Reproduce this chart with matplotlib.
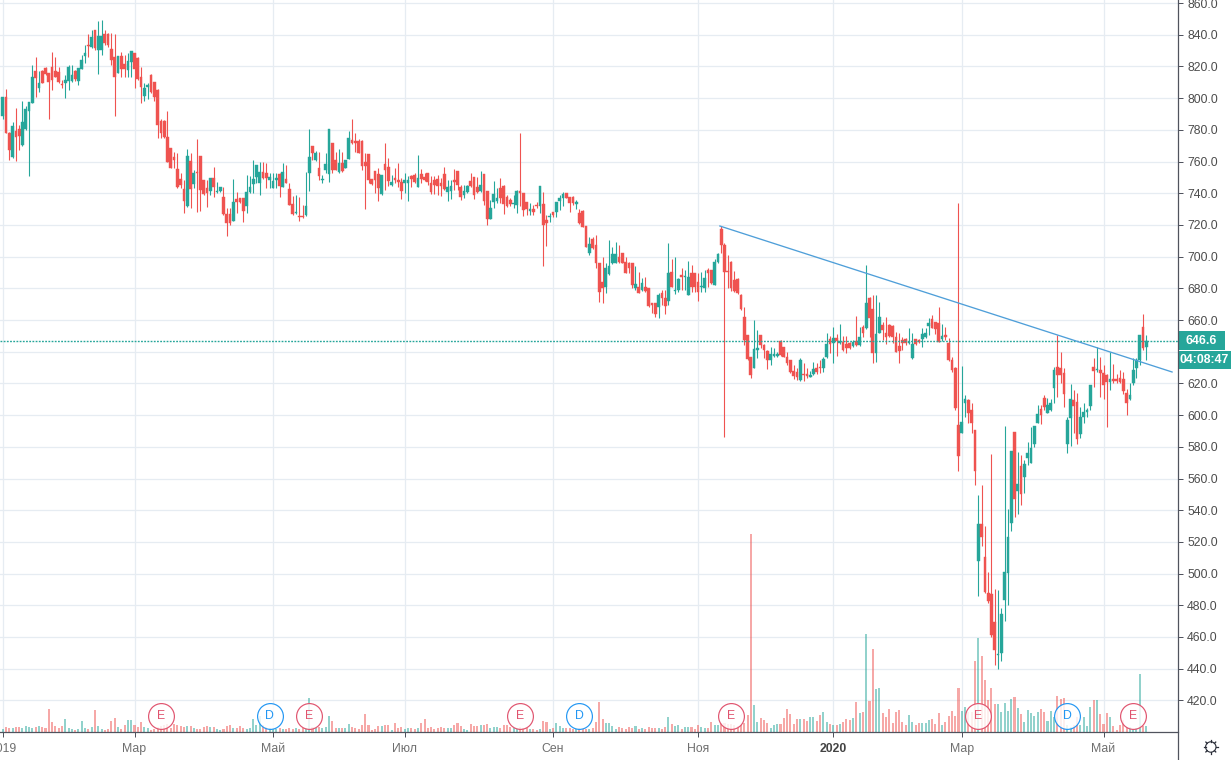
import numpy as np
import matplotlib
matplotlib.use("Agg")
import matplotlib.pyplot as plt
from matplotlib.patches import Circle, Rectangle

plt.rcParams['font.family'] = ['Liberation Sans', 'DejaVu Sans']

# Дневные свечи, значения
opens = [
    788.7, 800.5, 778.2, 763.1, 779.5, 780.3, 770.4, 780.5, 792.1, 797.1,
    817.1, 806.4, 817.3, 819.2, 815.6, 819.4, 817.3, 816.5, 808.9, 809.7,
    810.8, 811.0, 817.3, 811.0, 818.6, 826.6, 833.3, 832.0, 843.0, 830.4,
    830.4, 840.4, 840.4, 830.8, 825.7, 816.1, 826.6, 821.5, 817.7, 823.0,
    828.3, 825.3, 813.1, 801.3, 807.2, 814.6, 810.2, 805.1, 785.6, 785.6,
    775.3, 768.3, 762.6, 755.3, 749.0, 742.7, 731.9, 760.1, 745.8, 753.2,
    763.5, 748.3, 743.1, 741.6, 749.4, 740.8, 741.6, 737.4, 726.9, 726.9,
    722.7, 736.4, 736.8, 736.8, 731.9, 740.8, 745.8, 750.4, 746.6, 753.2,
    752.5, 748.3, 743.5, 748.1, 752.1, 744.1, 748.8, 742.4, 733.2, 727.3,
    725.6, 725.6, 726.3, 752.5, 769.8, 761.0, 755.7, 748.3, 754.6, 752.1,
    771.5, 761.0, 753.4, 759.3, 756.1, 761.4, 773.6, 773.2, 773.2, 773.2,
    759.5, 764.7, 748.8, 753.8, 752.1, 739.5, 758.4, 756.3, 745.0, 749.4,
    748.3, 746.9, 746.6, 746.6, 750.9, 751.5, 744.1, 752.1, 750.0, 752.5,
    746.2, 748.3, 748.7, 746.2, 752.1, 741.0, 741.6, 748.3, 754.0, 743.7,
    739.1, 740.8, 747.9, 750.0, 743.7, 741.2, 752.1, 741.6, 723.9, 734.7,
    735.1, 743.1, 744.8, 737.8, 735.7, 733.2, 732.6, 741.2, 740.3, 734.7,
    728.9, 729.8, 732.6, 731.9, 733.2, 723.1, 724.8, 728.1, 728.1, 735.1,
    737.0, 739.9, 737.4, 737.8, 733.2, 727.7, 729.0, 719.3, 702.0, 710.9,
    707.3, 695.8, 683.8, 681.0, 689.0, 695.8, 696.2, 699.5, 702.0, 696.8,
    695.8, 695.8, 680.0, 681.0, 678.9, 680.6, 680.0, 670.5, 670.5, 668.0,
    676.8, 673.7, 672.2, 690.5, 678.5, 678.9, 688.2, 686.9, 675.8, 689.9,
    689.4, 684.2, 680.6, 680.0, 691.5, 691.5, 682.1, 696.6, 717.4, 707.3,
    690.9, 696.8, 685.2, 685.7, 675.8, 661.7, 650.5, 636.4, 629.9, 641.1,
    650.5, 644.2, 640.7, 634.8, 637.3, 637.3, 647.0, 642.8, 636.9, 634.8,
    628.0, 627.0, 622.2, 626.1, 626.1, 624.2, 625.9, 629.5, 630.5, 629.5,
    636.4, 648.0, 645.7, 648.4, 645.3, 646.3, 644.8, 645.3, 643.6, 646.9,
    644.2, 655.4, 654.7, 673.7, 666.7, 639.4, 652.0, 656.8, 652.0, 656.8,
    656.2, 649.5, 643.6, 647.4, 648.0, 645.7, 635.8, 647.8, 647.4, 648.0,
    649.0, 656.2, 660.4, 658.5, 658.3, 648.2, 650.5, 645.7, 634.7, 629.5,
    593.7, 588.5, 607.8, 609.5, 603.2, 590.6, 508.2, 531.3, 510.3, 487.6,
    487.1, 469.5, 448.9, 450.1, 483.4, 500.6, 532.1, 589.1, 552.3, 567.9,
    561.2, 573.1, 570.0, 581.8, 595.2, 603.8, 611.0, 601.5, 603.2, 616.9,
    630.1, 629.5, 626.8, 581.8, 598.4, 609.5, 608.5, 588.1, 599.0, 601.7,
    605.7, 630.1, 628.4, 628.2, 626.3, 625.3, 621.0, 622.5, 623.0, 623.2,
    622.5, 613.7, 609.9, 620.0, 629.9, 634.7, 655.4, 643.2,
]
highs = [
    800.5, 805.5, 778.8, 785.1, 793.6, 783.0, 798.2, 795.0, 797.6, 820.9,
    826.2, 817.3, 817.7, 819.8, 816.0, 829.1, 826.2, 819.8, 811.4, 814.6,
    820.9, 820.9, 817.7, 819.2, 827.2, 833.5, 840.4, 843.0, 843.0, 848.9,
    849.3, 843.0, 840.9, 840.9, 840.4, 826.6, 829.3, 827.2, 828.3, 829.9,
    828.3, 825.7, 819.8, 809.3, 809.3, 815.2, 810.4, 805.5, 786.6, 786.2,
    791.9, 768.3, 766.2, 765.2, 752.5, 748.3, 767.9, 765.2, 754.7, 774.0,
    763.5, 748.3, 748.3, 749.8, 756.3, 747.3, 744.1, 743.7, 730.5, 730.5,
    748.8, 741.0, 736.8, 736.8, 751.5, 750.9, 761.0, 757.8, 759.9, 759.9,
    759.3, 752.5, 752.5, 752.5, 752.5, 759.3, 757.8, 746.7, 738.5, 738.9,
    737.4, 732.6, 753.6, 780.3, 769.8, 766.8, 765.8, 751.5, 765.6, 780.3,
    771.5, 766.2, 767.9, 765.8, 761.0, 779.3, 786.6, 777.8, 774.0, 773.6,
    765.6, 764.7, 748.8, 754.2, 755.7, 751.5, 771.5, 762.0, 751.5, 755.7,
    758.9, 749.4, 753.0, 750.9, 751.5, 752.5, 764.1, 755.1, 752.5, 753.0,
    750.9, 750.9, 751.5, 749.4, 756.7, 748.3, 748.3, 755.1, 754.2, 745.2,
    745.2, 745.2, 752.5, 750.0, 750.4, 754.2, 752.1, 741.6, 735.7, 747.7,
    743.1, 749.4, 745.2, 738.9, 736.8, 738.9, 742.0, 777.8, 740.3, 734.7,
    733.6, 732.6, 734.7, 744.5, 741.0, 726.2, 727.3, 728.3, 734.5, 738.9,
    740.8, 739.9, 737.8, 738.2, 735.7, 729.8, 729.4, 719.3, 712.6, 712.6,
    713.6, 695.8, 700.0, 695.8, 710.5, 706.3, 709.4, 707.3, 702.5, 700.0,
    696.8, 696.2, 694.1, 690.5, 686.3, 687.3, 680.0, 670.5, 670.5, 677.2,
    679.0, 679.0, 708.4, 698.3, 700.0, 686.3, 692.6, 691.5, 697.2, 694.7,
    689.9, 689.4, 690.5, 691.5, 692.6, 691.5, 698.3, 702.5, 719.3, 708.4,
    701.0, 697.2, 691.1, 686.3, 676.2, 668.0, 650.5, 636.9, 660.0, 653.7,
    650.5, 644.7, 641.1, 643.2, 642.1, 640.0, 647.4, 643.2, 640.0, 634.8,
    631.6, 630.0, 636.0, 632.6, 629.5, 628.0, 633.7, 632.6, 634.7, 636.4,
    651.6, 650.1, 655.8, 651.2, 657.5, 649.9, 649.9, 646.3, 647.4, 662.5,
    655.4, 656.8, 694.7, 674.3, 675.8, 675.8, 671.5, 658.9, 662.1, 657.5,
    656.8, 652.6, 651.6, 649.5, 648.4, 654.7, 651.6, 647.8, 647.8, 654.7,
    654.7, 661.0, 663.1, 658.9, 668.4, 657.2, 655.4, 648.4, 636.4, 630.5,
    733.6, 631.0, 612.7, 609.9, 607.4, 590.6, 549.6, 555.9, 530.0, 500.8,
    575.5, 490.1, 489.7, 478.1, 593.0, 540.8, 577.3, 589.1, 576.9, 574.8,
    571.7, 583.2, 592.7, 593.1, 606.4, 606.4, 612.7, 610.6, 609.9, 630.1,
    650.5, 639.6, 629.5, 599.0, 619.6, 615.8, 613.7, 604.9, 607.8, 604.3,
    619.0, 635.8, 642.7, 636.9, 631.6, 625.9, 640.0, 632.0, 626.0, 628.4,
    627.4, 616.2, 620.4, 635.8, 635.8, 650.5, 663.8, 650.5,
]
lows = [
    786.6, 777.8, 761.0, 762.0, 760.5, 767.3, 770.0, 779.9, 751.0, 797.1,
    800.5, 804.1, 809.3, 814.6, 787.0, 805.1, 813.1, 809.3, 806.6, 800.3,
    805.1, 810.4, 811.0, 808.3, 818.2, 822.0, 826.2, 831.4, 830.4, 815.2,
    827.2, 833.5, 832.5, 820.9, 788.7, 815.6, 813.5, 813.1, 813.1, 813.1,
    806.2, 811.4, 796.7, 798.2, 799.4, 803.0, 798.4, 774.6, 774.6, 774.6,
    759.9, 755.7, 755.7, 743.1, 743.1, 727.7, 731.5, 730.5, 743.1, 728.4,
    729.0, 738.9, 731.5, 738.9, 737.8, 740.3, 741.0, 726.3, 713.2, 720.0,
    722.7, 727.3, 734.0, 722.0, 727.3, 739.9, 739.9, 746.2, 738.9, 748.8,
    743.1, 743.1, 743.1, 743.1, 737.8, 744.1, 746.2, 732.4, 726.3, 726.9,
    722.7, 724.2, 725.6, 741.6, 761.0, 760.5, 748.3, 746.6, 752.5, 747.3,
    752.5, 754.6, 753.0, 753.6, 755.7, 761.4, 771.0, 766.2, 765.6, 754.6,
    730.3, 746.2, 745.2, 740.3, 735.3, 738.9, 742.0, 744.8, 744.6, 746.2,
    744.1, 736.3, 739.9, 735.1, 743.7, 746.2, 743.7, 746.6, 747.5, 745.2,
    739.5, 739.5, 738.9, 738.2, 742.0, 735.3, 736.1, 742.0, 742.0, 735.7,
    736.8, 740.3, 743.7, 736.3, 739.9, 741.0, 732.6, 720.0, 723.9, 730.9,
    734.0, 733.6, 726.9, 731.1, 731.9, 730.5, 727.3, 731.9, 725.6, 726.2,
    726.2, 726.2, 730.5, 727.3, 694.1, 706.7, 722.0, 724.8, 724.8, 729.4,
    731.9, 736.8, 728.3, 732.6, 729.8, 720.6, 718.5, 705.8, 701.0, 704.6,
    692.6, 671.6, 670.5, 676.8, 688.4, 695.3, 695.8, 695.8, 695.8, 689.4,
    689.4, 680.0, 678.9, 676.8, 678.5, 677.9, 668.0, 664.2, 662.1, 661.5,
    669.5, 663.8, 669.5, 680.6, 676.4, 677.9, 678.9, 678.9, 675.8, 677.9,
    677.9, 672.2, 677.9, 677.5, 681.0, 682.7, 682.1, 696.2, 702.0, 586.4,
    680.0, 678.5, 677.9, 676.4, 666.3, 644.2, 634.8, 623.6, 629.5, 635.8,
    642.1, 635.8, 629.1, 631.6, 636.9, 636.9, 637.5, 636.4, 631.6, 626.3,
    622.6, 622.4, 621.5, 621.7, 623.2, 623.8, 625.3, 625.9, 626.3, 627.4,
    635.8, 639.0, 633.1, 637.5, 644.8, 640.2, 639.0, 641.5, 643.2, 643.6,
    643.8, 649.5, 654.3, 649.5, 633.1, 633.7, 651.6, 647.4, 644.8, 649.5,
    645.3, 640.0, 632.6, 641.0, 644.2, 644.8, 635.4, 644.2, 645.7, 642.7,
    648.4, 650.5, 654.7, 651.2, 646.1, 647.0, 647.4, 634.3, 627.4, 603.2,
    564.7, 588.5, 599.0, 594.8, 588.9, 555.9, 486.1, 517.4, 488.0, 481.3,
    460.2, 442.3, 439.8, 445.1, 470.1, 480.2, 527.1, 535.9, 537.6, 543.3,
    550.7, 568.5, 570.0, 580.1, 594.8, 594.4, 603.2, 601.5, 602.8, 607.4,
    611.2, 620.0, 605.3, 576.3, 580.5, 588.9, 581.7, 585.3, 594.8, 599.0,
    603.2, 617.5, 627.4, 611.2, 609.9, 592.7, 615.8, 620.4, 620.5, 620.0,
    613.3, 600.0, 609.5, 619.0, 623.6, 631.6, 641.0, 634.7,
]
closes = [
    800.5, 778.2, 767.3, 782.4, 775.3, 776.1, 784.9, 793.1, 797.6, 813.1,
    812.5, 809.3, 809.7, 815.4, 810.4, 811.4, 813.5, 810.4, 808.1, 811.2,
    819.8, 814.4, 811.8, 818.8, 824.1, 828.3, 832.9, 838.8, 831.4, 839.2,
    839.2, 834.6, 833.3, 824.1, 813.5, 826.6, 818.2, 818.2, 823.4, 829.7,
    818.6, 811.8, 807.2, 806.4, 808.5, 804.1, 800.9, 783.2, 778.2, 775.3,
    759.9, 756.1, 761.0, 744.1, 745.2, 735.1, 763.5, 742.7, 753.0, 752.5,
    742.0, 739.3, 740.3, 749.4, 744.1, 741.6, 743.7, 726.9, 721.4, 721.4,
    734.5, 734.2, 734.7, 728.8, 740.8, 744.1, 749.0, 757.8, 753.6, 749.4,
    749.4, 750.4, 747.7, 749.6, 744.6, 753.6, 746.7, 732.8, 726.9, 728.2,
    724.8, 724.8, 731.9, 762.6, 765.6, 765.6, 751.1, 748.7, 758.2, 780.3,
    754.6, 754.6, 759.3, 754.2, 761.0, 774.6, 771.5, 771.5, 765.6, 757.4,
    757.4, 748.3, 745.8, 748.3, 743.1, 751.5, 754.6, 747.9, 747.1, 748.3,
    747.3, 741.6, 748.3, 748.3, 749.2, 747.3, 749.4, 749.0, 748.3, 747.3,
    740.5, 745.2, 744.5, 744.5, 742.4, 743.7, 744.5, 747.3, 745.2, 737.8,
    741.4, 744.5, 744.5, 738.9, 741.0, 745.0, 735.3, 723.9, 730.9, 739.3,
    736.8, 736.8, 733.2, 731.9, 733.2, 733.6, 741.6, 740.3, 729.4, 729.8,
    730.0, 728.3, 731.9, 744.5, 720.0, 721.4, 725.4, 726.2, 734.5, 737.2,
    739.3, 737.2, 733.6, 734.0, 734.5, 721.0, 718.9, 706.3, 707.7, 705.2,
    695.8, 677.9, 680.0, 693.0, 694.1, 701.4, 701.6, 696.8, 696.2, 689.9,
    692.6, 682.1, 682.7, 677.2, 683.1, 678.5, 668.8, 669.5, 663.8, 675.8,
    673.7, 668.8, 689.9, 681.0, 678.9, 685.7, 687.3, 687.8, 687.3, 680.6,
    681.0, 677.9, 681.5, 686.3, 689.4, 683.1, 696.6, 701.6, 707.3, 690.5,
    690.1, 680.0, 678.5, 677.2, 666.7, 647.4, 635.2, 625.3, 641.7, 642.5,
    644.2, 641.1, 634.8, 638.3, 638.3, 638.3, 637.9, 636.9, 632.7, 627.4,
    624.7, 624.0, 634.8, 625.3, 624.6, 625.3, 628.9, 627.4, 629.5, 635.4,
    644.8, 644.8, 648.4, 646.9, 646.9, 641.0, 642.1, 642.1, 646.3, 644.0,
    649.0, 652.0, 670.5, 661.5, 639.4, 651.2, 662.1, 653.7, 649.5, 649.9,
    649.5, 640.0, 640.6, 645.7, 645.3, 646.3, 644.8, 644.8, 646.3, 650.9,
    651.6, 658.3, 655.1, 654.1, 646.3, 649.9, 649.5, 634.7, 628.4, 604.3,
    574.4, 595.8, 610.1, 601.1, 594.8, 564.9, 531.3, 523.3, 488.6, 482.9,
    461.3, 451.8, 449.4, 474.5, 500.8, 522.9, 577.3, 547.0, 556.3, 550.2,
    569.2, 575.9, 579.0, 593.1, 600.7, 600.0, 605.3, 606.4, 607.4, 628.4,
    625.3, 625.3, 613.3, 596.9, 610.1, 605.7, 584.7, 598.6, 602.2, 603.2,
    619.0, 627.8, 628.9, 626.8, 619.0, 620.7, 622.5, 621.3, 621.3, 620.7,
    615.2, 607.4, 612.7, 628.4, 634.7, 650.5, 642.1, 646.6,
]
volumes = [
    3, 5, 4, 4, 5, 5, 4, 6, 5, 4,
    5, 6, 5, 4, 23, 10, 6, 4, 6, 13,
    4, 3, 2, 3, 11, 4, 3, 5, 22, 6,
    3, 2, 3, 11, 14, 5, 3, 7, 12, 12,
    7, 5, 10, 5, 4, 2, 3, 5, 6, 7,
    8, 4, 8, 7, 6, 5, 6, 6, 4, 3,
    3, 5, 6, 5, 5, 3, 2, 3, 6, 7,
    4, 4, 6, 4, 3, 4, 13, 7, 16, 7,
    5, 4, 3, 3, 4, 3, 3, 4, 3, 4,
    3, 4, 4, 34, 5, 4, 5, 4, 5, 16,
    11, 4, 4, 4, 4, 8, 5, 4, 3, 7,
    18, 7, 2, 3, 6, 6, 7, 7, 2, 9,
    4, 5, 3, 4, 4, 3, 4, 9, 13, 4,
    5, 3, 4, 5, 4, 4, 4, 7, 9, 6,
    3, 2, 8, 6, 6, 7, 7, 8, 4, 5,
    5, 4, 7, 7, 5, 4, 3, 5, 4, 4,
    3, 3, 2, 3, 11, 10, 3, 4, 9, 6,
    4, 4, 4, 3, 3, 4, 3, 3, 3, 4,
    10, 30, 13, 9, 9, 6, 3, 5, 4, 3,
    5, 4, 6, 3, 4, 3, 5, 4, 4, 4,
    3, 5, 15, 8, 6, 7, 3, 5, 5, 5,
    3, 7, 5, 4, 4, 10, 7, 7, 9, 9,
    8, 8, 7, 6, 7, 9, 17, 198, 27, 10,
    14, 12, 9, 4, 7, 8, 8, 14, 23, 18,
    8, 13, 13, 13, 11, 15, 15, 11, 17, 20,
    10, 8, 7, 7, 8, 10, 13, 12, 14, 30,
    19, 20, 98, 31, 83, 43, 44, 19, 15, 23,
    9, 20, 22, 10, 7, 17, 10, 7, 9, 9,
    9, 12, 13, 8, 19, 7, 10, 16, 21, 16,
    44, 21, 25, 20, 20, 71, 94, 76, 52, 32,
    44, 28, 28, 20, 29, 21, 33, 35, 24, 18,
    10, 22, 19, 16, 20, 23, 20, 11, 21, 15,
    36, 33, 34, 7, 5, 7, 15, 7, 15, 6,
    25, 32, 32, 18, 8, 19, 15, 6, 2, 7,
    12, 5, 5, 3, 4, 58, 6, 6,
]

price_ticks = list(range(420, 861, 20))
month_idx = [0, 40, 82, 122, 167, 211, 252, 291, 334]
month_labels = ["2019", "Мар", "Май", "Июл", "Сен", "Ноя", "2020", "Мар", "Май"]
event_idx = [48, 81, 93, 157, 175, 221, 296, 323, 343]
event_labels = ["E", "D", "E", "E", "D", "E", "E", "D", "E"]
trend_idx = [217.6, 354.8]
trend_price = [719.3, 627.2]
last_price = 646.6
countdown = "04:08:47"

UP = "#26a69a"
DOWN = "#ef5350"
GRID = "#e6ecf2"
AXIS = "#50535e"
EVENT_E = "#e0536e"
EVENT_D = "#2196f3"

W, H = 1231, 760
PANE_W, PANE_H = 1178, 732
XLIM = (-0.81, 356.6)
YLIM = (400.06, 861.9)
FS = 8.8


def pane(fig, zorder):
    ax = fig.add_axes([0, (H - PANE_H) / H, PANE_W / W, PANE_H / H], zorder=zorder)
    ax.patch.set_visible(False)
    ax.set_xlim(*XLIM)
    return ax


def draw_grid(fig):
    ax = pane(fig, 0)
    ax.set_ylim(*YLIM)
    ax.yaxis.tick_right()
    ax.set_yticks(price_ticks)
    # 640.0 в оригинале закрыт плашкой цены
    ax.set_yticklabels(["" if v == 640 else f"{v:.1f}" for v in price_ticks])
    ax.set_xticks(month_idx)
    ax.set_xticklabels(month_labels)
    ax.tick_params(axis="y", length=3.6, width=0.72, color=AXIS, labelcolor="#4c4c4c",
                   labelsize=FS, pad=2.9)
    ax.tick_params(axis="x", length=3.6, width=0.72, color=AXIS, labelcolor="#6f6f6f",
                   labelsize=FS, pad=4)
    ax.get_xticklabels()[6].set_color("#444444")
    ax.get_xticklabels()[6].set_fontweight("bold")
    ax.grid(color=GRID, linewidth=0.9)
    ax.set_axisbelow(True)
    for side in ax.spines:
        ax.spines[side].set_visible(False)


def draw_volume(fig, idx, colors):
    ax = pane(fig, 1)
    ax.set_ylim(0, PANE_H)
    ax.axis("off")
    ax.bar(idx, volumes, width=0.62, color=colors, alpha=0.5, linewidth=0)
    for i, label in zip(event_idx, event_labels):
        c = EVENT_D if label == "D" else EVENT_E
        ax.scatter(i, 16, s=345, facecolor=(1, 1, 1, 0.82), edgecolor=c, linewidth=0.85, zorder=3)
        ax.text(i, 16, label, color=c, fontsize=FS, ha="center", va="center", zorder=4)


def draw_candles(fig, idx, colors):
    ax = pane(fig, 2)
    ax.set_ylim(*YLIM)
    ax.axis("off")
    ax.vlines(idx, lows, highs, color=colors, linewidth=0.8)
    o, c = np.array(opens), np.array(closes)
    ax.bar(idx, np.abs(c - o), bottom=np.minimum(o, c), width=0.82, color=colors,
           edgecolor=colors, linewidth=0.3)
    ax.axhline(last_price, color=UP, linewidth=1.0, linestyle=(0, (1.3, 1.0)))
    ax.plot(trend_idx, trend_price, color="#4f9fd9", linewidth=0.95)


def draw_chrome(fig):
    # Всё, что в координатах экрана: рамка шкал, плашки цены, шестерёнка
    ax = fig.add_axes([0, 0, 1, 1], zorder=5)
    ax.patch.set_visible(False)
    ax.set_xlim(0, W)
    ax.set_ylim(H, 0)
    ax.axis("off")
    ax.plot([PANE_W, PANE_W], [0, H], color=AXIS, linewidth=0.9)
    ax.plot([0, PANE_W], [PANE_H, PANE_H], color=AXIS, linewidth=0.9)

    ax.add_patch(Rectangle((PANE_W, 331), 47, 19, color=UP, linewidth=0))
    ax.text(1201.5, 341, f"{last_price:.1f}", color="white", fontsize=FS, fontweight="bold",
            ha="center", va="center")
    ax.add_patch(Rectangle((PANE_W, 351), W - PANE_W, 18, color=UP, linewidth=0))
    ax.text(1204.5, 360, countdown, color="white", fontsize=FS, fontweight="bold",
            ha="center", va="center")

    cx, cy = 1210.8, 747
    for a in np.deg2rad(np.arange(0, 360, 45)):
        ax.plot([cx + 5 * np.cos(a), cx + 7 * np.cos(a)],
                [cy + 5 * np.sin(a), cy + 7 * np.sin(a)], color="#2a2e39", linewidth=0.9)
    ax.add_patch(Circle((cx, cy), 5.2, facecolor="white", edgecolor="#2a2e39", linewidth=0.8))


def main():
    assert all(len(s) == len(opens) for s in (highs, lows, closes, volumes))
    idx = np.arange(len(opens))
    colors = [UP if c >= o else DOWN for o, c in zip(opens, closes)]

    fig = plt.figure(figsize=(W / 100, H / 100), dpi=100, facecolor="white")
    draw_grid(fig)
    draw_volume(fig, idx, colors)
    draw_candles(fig, idx, colors)
    draw_chrome(fig)
    fig.savefig("out.png", dpi=100)


if __name__ == "__main__":
    main()
